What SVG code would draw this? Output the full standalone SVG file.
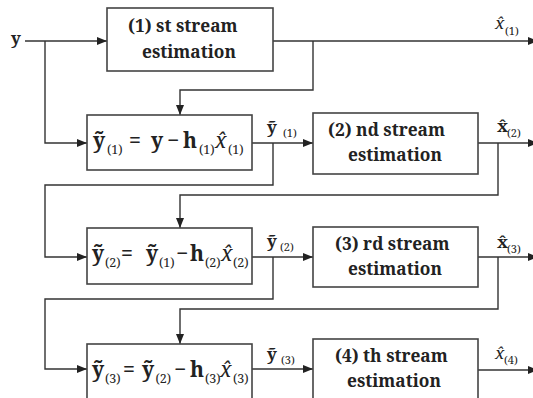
<svg xmlns="http://www.w3.org/2000/svg" width="533" height="398" viewBox="0 0 533 398" font-family="'Noto Serif', 'DejaVu Serif', serif">
<style>
.box{fill:#fff;stroke:#444;stroke-width:1.6}
.ln{fill:none;stroke:#333;stroke-width:1.4}
.arr{marker-end:url(#ah)}
text{fill:#222}
.bt{font-size:17.3px;font-weight:bold}
.c{text-anchor:middle}
.eq{font-size:21px;font-weight:bold}
.sub{font-size:12.5px;font-weight:normal}
.it{font-style:italic;font-weight:normal}
.lb{font-size:17px;font-weight:bold}
.ls{font-size:11px;font-weight:normal}
</style>
<defs>
<marker id="ah" markerUnits="userSpaceOnUse" markerWidth="10" markerHeight="8" refX="10" refY="4" orient="auto">
<path d="M0,0 L10,4 L0,8 z" fill="#222"/>
</marker>
</defs>
<g id="connectors">
<path class="ln arr" d="M25,41 H107"/>
<path class="ln arr" d="M45,41 V143 H87"/>
<path class="ln arr" d="M273,41 H538"/>
<path class="ln arr" d="M313,41 V90 H180 V115"/>
<path class="ln arr" d="M252,143 H313"/>
<path class="ln arr" d="M273,143 V185 H45 V257 H87"/>
<path class="ln arr" d="M478,143 H538"/>
<path class="ln arr" d="M498,143 V195 H180 V228"/>
<path class="ln arr" d="M252,257 H313"/>
<path class="ln arr" d="M273,257 V299 H45 V369 H87"/>
<path class="ln arr" d="M478,257 H538"/>
<path class="ln arr" d="M498,257 V309 H180 V344"/>
<path class="ln arr" d="M252,369 H313"/>
<path class="ln arr" d="M478,370 H538"/>
</g>
<g id="input-y"><text class="lb" x="11" y="44" font-size="19">y</text></g>
<g id="stream1">
<rect class="box" x="107" y="8" width="166" height="63"/>
<text class="bt" x="128" y="32">(1) st stream</text>
<text class="bt c" x="189" y="58">estimation</text>
</g>
<g id="sub1">
<rect class="box" x="87" y="115" width="165" height="55"/>
<text class="eq" y="148"><tspan x="93">ỹ</tspan><tspan class="sub" x="107" y="154">(1)</tspan><tspan x="129" y="148">=</tspan><tspan x="151">y</tspan><tspan x="167">−</tspan><tspan x="183">h</tspan><tspan class="sub" x="199" y="154">(1)</tspan><tspan class="it" x="215" y="148">x̂</tspan><tspan class="sub" x="228" y="154">(1)</tspan></text>
</g>
<g id="stream2">
<rect class="box" x="313" y="113" width="165" height="61"/>
<text class="bt" x="328" y="136">(2) nd stream</text>
<text class="bt c" x="395" y="161">estimation</text>
</g>
<g id="sub2">
<rect class="box" x="87" y="228" width="165" height="56"/>
<text class="eq" y="261"><tspan x="92">ỹ</tspan><tspan class="sub" x="105" y="267">(2)</tspan><tspan x="121" y="261">=</tspan><tspan x="146">ỹ</tspan><tspan class="sub" x="159" y="267">(1)</tspan><tspan x="176" y="261">−</tspan><tspan x="190">h</tspan><tspan class="sub" x="205" y="267">(2)</tspan><tspan class="it" x="221" y="261">x̂</tspan><tspan class="sub" x="233" y="267">(2)</tspan></text>
</g>
<g id="stream3">
<rect class="box" x="313" y="227" width="165" height="60"/>
<text class="bt" x="335" y="250">(3) rd stream</text>
<text class="bt c" x="395" y="275">estimation</text>
</g>
<g id="sub3">
<rect class="box" x="87" y="344" width="165" height="60"/>
<text class="eq" y="377"><tspan x="92">ỹ</tspan><tspan class="sub" x="105" y="383">(3)</tspan><tspan x="123" y="377">=</tspan><tspan x="142">ỹ</tspan><tspan class="sub" x="155.5" y="383">(2)</tspan><tspan x="174" y="377">−</tspan><tspan x="190">h</tspan><tspan class="sub" x="205" y="383">(3)</tspan><tspan class="it" x="220" y="377">x̂</tspan><tspan class="sub" x="233" y="383">(3)</tspan></text>
</g>
<g id="stream4">
<rect class="box" x="313" y="339" width="165" height="65"/>
<text class="bt" x="335" y="362">(4) th stream</text>
<text class="bt c" x="394" y="387">estimation</text>
</g>
<g id="labels">
<text class="lb" x="495" y="29"><tspan class="it">x̂</tspan><tspan class="ls" x="505" y="35">(1)</tspan></text>
<text class="lb" x="267" y="133">ỹ<tspan class="ls" x="283" y="137">(1)</tspan></text>
<text class="lb" x="497" y="132">x̂<tspan class="ls" x="507" y="137">(2)</tspan></text>
<text class="lb" x="267" y="247">ỹ<tspan class="ls" x="280" y="251">(2)</tspan></text>
<text class="lb" x="497" y="248">x̂<tspan class="ls" x="507" y="253">(3)</tspan></text>
<text class="lb" x="267" y="360">ỹ<tspan class="ls" x="281" y="364">(3)</tspan></text>
<text class="lb" x="495" y="359"><tspan class="it">x̂</tspan><tspan class="ls" x="504" y="364">(4)</tspan></text>
</g>
</svg>
